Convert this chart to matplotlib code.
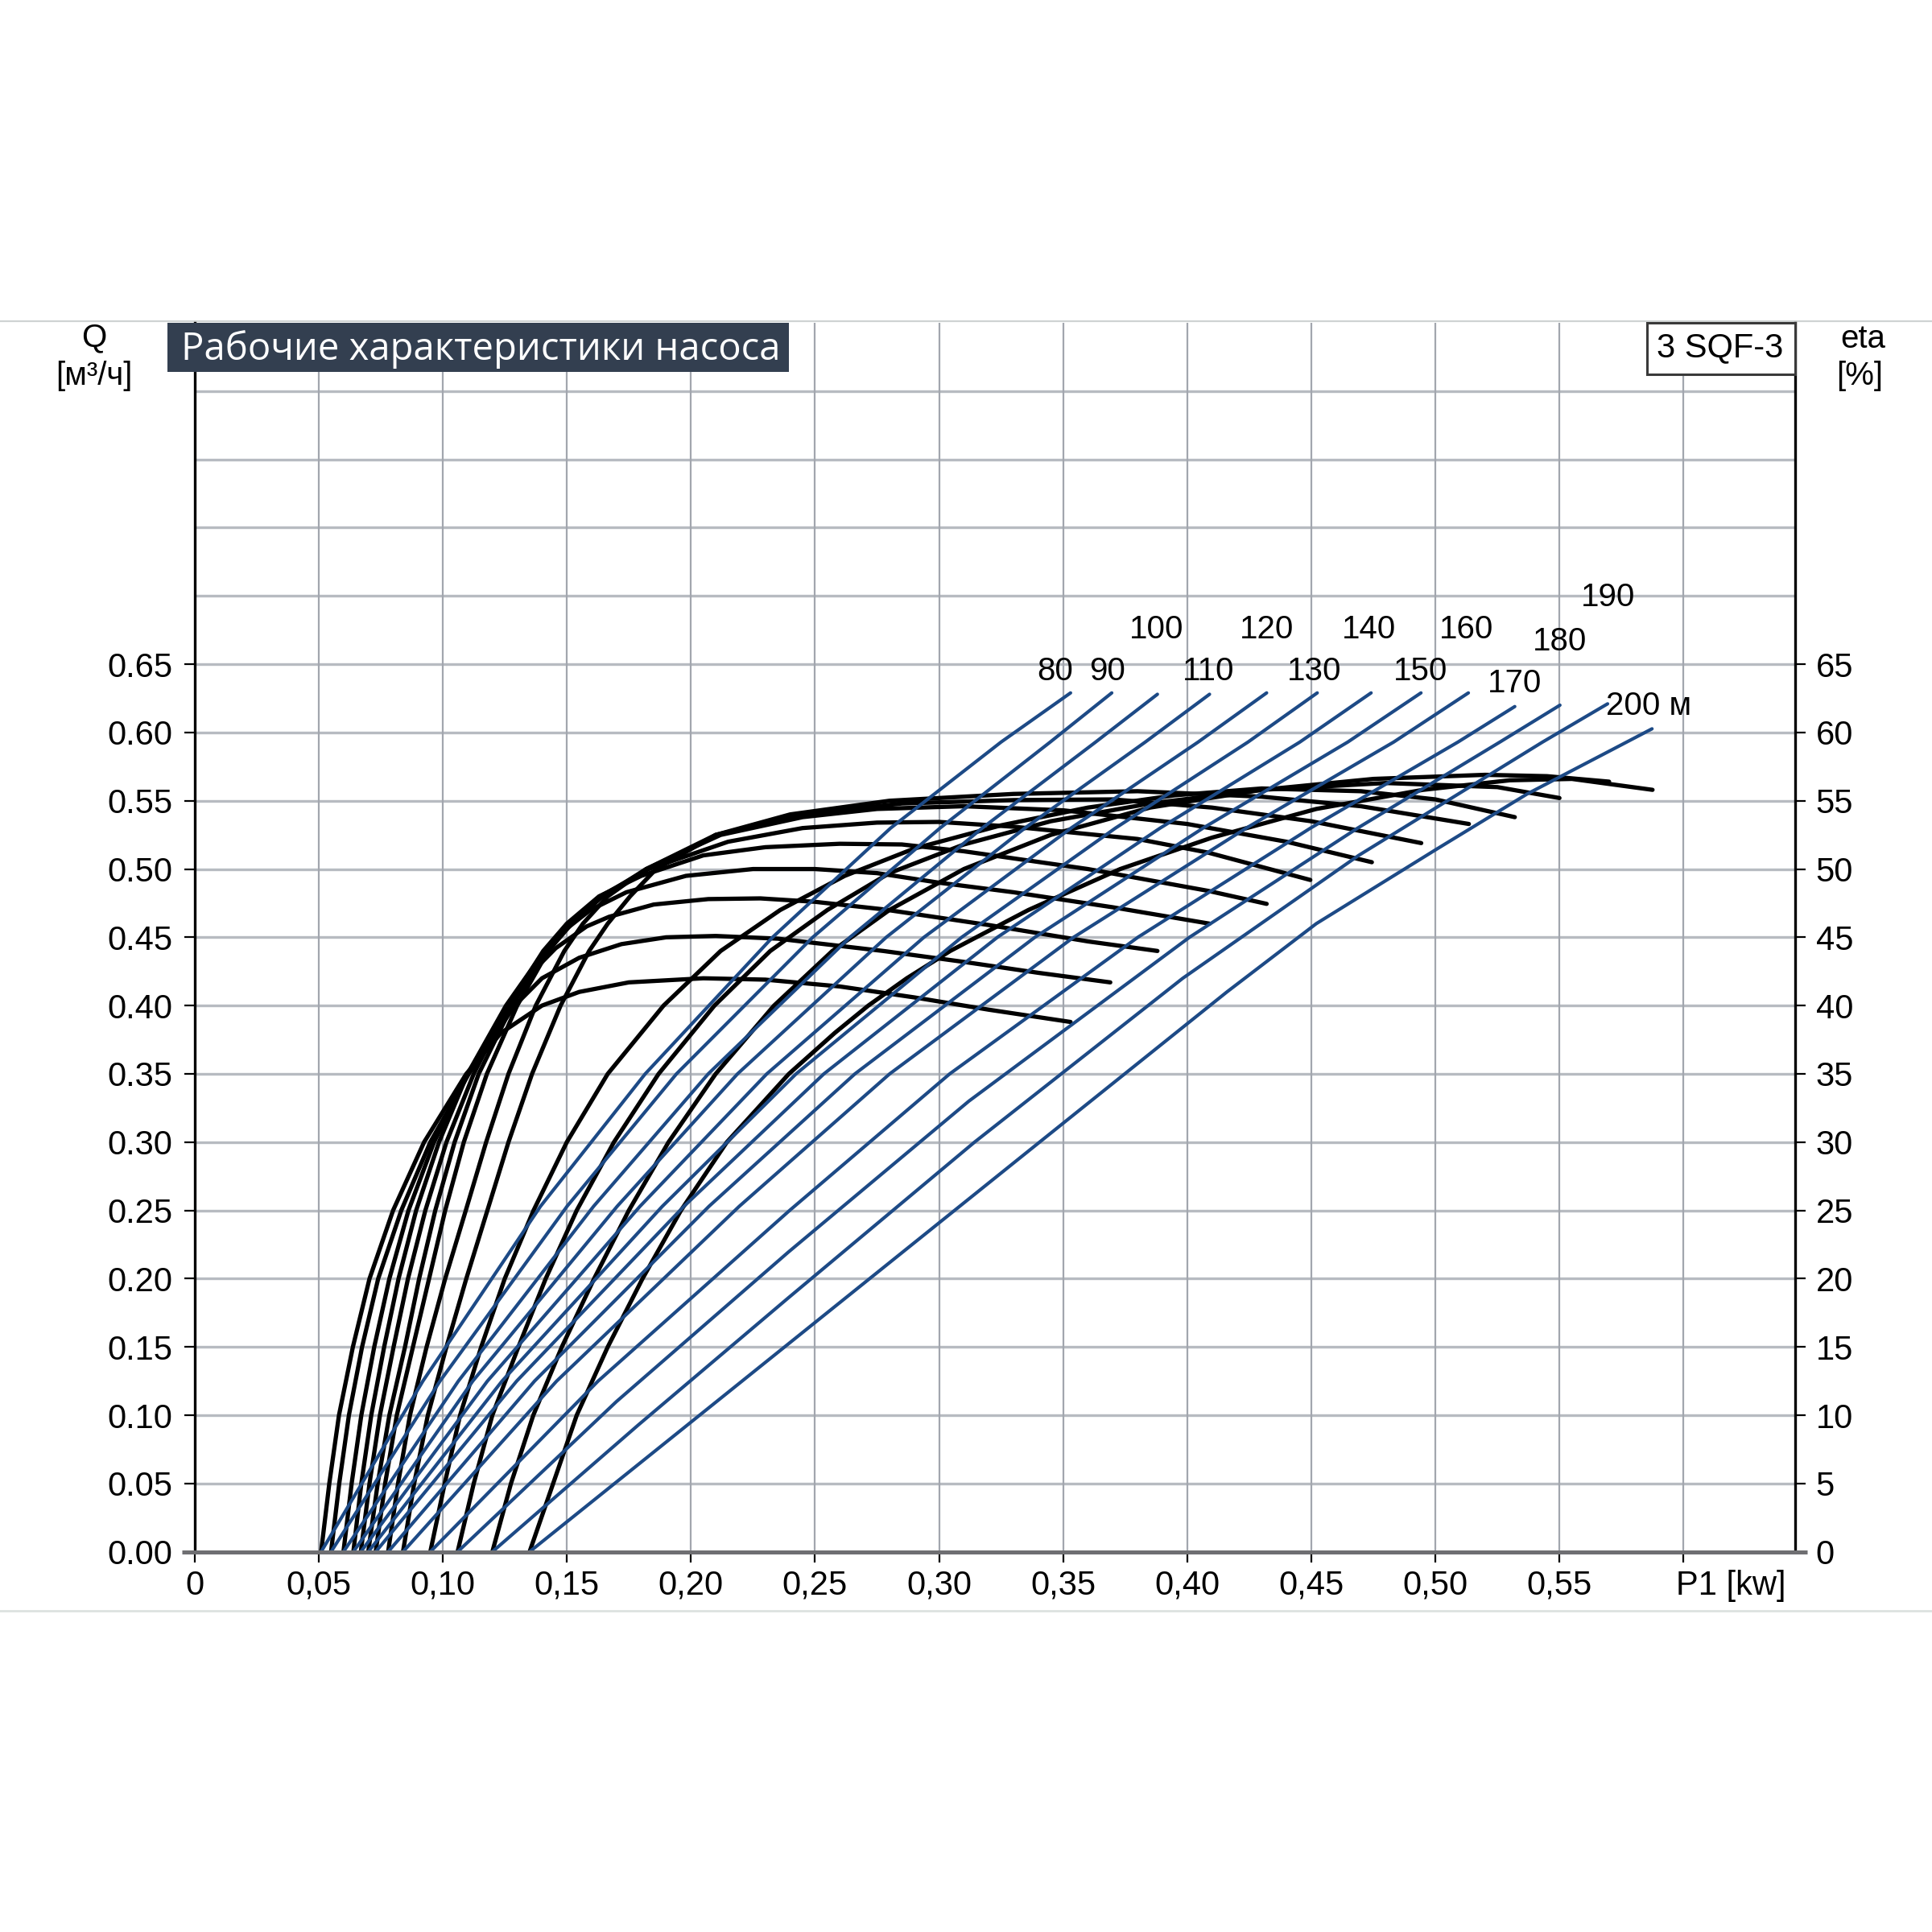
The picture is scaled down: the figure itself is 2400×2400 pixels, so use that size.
import numpy as np
import matplotlib.pyplot as plt
from matplotlib.patches import Rectangle
from matplotlib.lines import Line2D

plt.rcParams['font.family'] = ['Liberation Sans', 'DejaVu Sans']

# heads [m]
heads = [80, 90, 100, 110, 120, 130, 140, 150, 160, 170, 180, 190, 200]
head_labels = ['80', '90', '100', '110', '120', '130', '140', '150', '160', '170', '180', '190', '200 м']

# efficiency curves: P1 [kW] -> eta [%]
p_eta_80 = [0.051, 0.0543, 0.0582, 0.0638, 0.0705, 0.080, 0.0925, 0.1095, 0.1235, 0.140, 0.155, 0.175, 0.205, 0.23, 0.26, 0.29, 0.32, 0.353]
eta_80 = [0, 5, 10, 15, 20, 25, 30, 35, 38, 40, 41, 41.7, 42, 41.9, 41.4, 40.6, 39.7, 38.8]
p_eta_90 = [0.055, 0.0583, 0.0622, 0.0675, 0.074, 0.0833, 0.095, 0.1105, 0.129, 0.140, 0.155, 0.172, 0.19, 0.21, 0.235, 0.2775, 0.31, 0.34, 0.369]
eta_90 = [0, 5, 10, 15, 20, 25, 30, 35, 40, 42, 43.5, 44.5, 45.0, 45.1, 44.9, 44.0, 43.2, 42.4, 41.7]
p_eta_100 = [0.060, 0.0633, 0.0672, 0.0724, 0.0785, 0.0862, 0.0965, 0.110, 0.1275, 0.139, 0.1455, 0.158, 0.167, 0.185, 0.207, 0.228, 0.25, 0.2775, 0.32, 0.36, 0.388]
eta_100 = [0, 5, 10, 15, 20, 25, 30, 35, 40, 43, 44.2, 45.8, 46.5, 47.4, 47.8, 47.85, 47.6, 47.05, 45.9, 44.7, 44.0]
p_eta_110 = [0.064, 0.0672, 0.0712, 0.0764, 0.0822, 0.0893, 0.0985, 0.110, 0.1255, 0.141, 0.149, 0.1595, 0.174, 0.198, 0.225, 0.25, 0.275, 0.30, 0.33, 0.37, 0.409]
eta_110 = [0, 5, 10, 15, 20, 25, 30, 35, 40, 44, 45.5, 47, 48.3, 49.5, 50, 50, 49.7, 49.0, 48.3, 47.2, 46.0]
p_eta_120 = [0.067, 0.0705, 0.0747, 0.0802, 0.086, 0.093, 0.1015, 0.1125, 0.1265, 0.1405, 0.150, 0.163, 0.18, 0.205, 0.23, 0.26, 0.285, 0.31, 0.36, 0.4085, 0.432]
eta_120 = [0, 5, 10, 15, 20, 25, 30, 35, 40, 44, 46, 48, 49.5, 51, 51.6, 51.85, 51.8, 51.3, 50.0, 48.4, 47.45]
p_eta_130 = [0.070, 0.0738, 0.0785, 0.0848, 0.0905, 0.097, 0.1048, 0.1145, 0.128, 0.1415, 0.151, 0.1635, 0.183, 0.215, 0.245, 0.275, 0.30, 0.33, 0.38, 0.4085, 0.4496]
eta_130 = [0, 5, 10, 15, 20, 25, 30, 35, 40, 44, 46, 48, 50, 52, 53, 53.4, 53.45, 53.1, 52.2, 51.2, 49.2]
p_eta_140 = [0.073, 0.0768, 0.0815, 0.088, 0.0945, 0.101, 0.1085, 0.1178, 0.130, 0.1425, 0.152, 0.1645, 0.182, 0.212, 0.245, 0.275, 0.31, 0.35, 0.40, 0.44, 0.4744]
eta_140 = [0, 5, 10, 15, 20, 25, 30, 35, 40, 44, 46, 48, 50, 52.5, 53.8, 54.4, 54.6, 54.3, 53.3, 52.0, 50.5]
p_eta_150 = [0.078, 0.082, 0.0868, 0.0935, 0.101, 0.1093, 0.1175, 0.1265, 0.1375, 0.149, 0.1565, 0.1665, 0.182, 0.210, 0.245, 0.285, 0.33, 0.37, 0.41, 0.45, 0.4943]
eta_150 = [0, 5, 10, 15, 20, 25, 30, 35, 40, 44, 46, 48, 50, 52.5, 54, 54.8, 55.05, 55.1, 54.5, 53.5, 51.9]
p_eta_160 = [0.084, 0.0885, 0.094, 0.1015, 0.1095, 0.118, 0.1265, 0.136, 0.1475, 0.159, 0.1665, 0.1755, 0.186, 0.21, 0.24, 0.28, 0.33, 0.38, 0.43, 0.47, 0.5135]
eta_160 = [0, 5, 10, 15, 20, 25, 30, 35, 40, 44, 46, 48, 50, 52.5, 54, 55, 55.5, 55.7, 55.3, 54.6, 53.3]
p_eta_170 = [0.095, 0.1008, 0.107, 0.1155, 0.125, 0.1366, 0.150, 0.1665, 0.189, 0.212, 0.236, 0.262, 0.29, 0.325, 0.36, 0.395, 0.43, 0.47, 0.50, 0.532]
eta_170 = [0, 5, 10, 15, 20, 25, 30, 35, 40, 44, 47, 49.5, 51.5, 53.2, 54.5, 55.4, 55.9, 55.7, 55.1, 53.8]
p_eta_180 = [0.106, 0.1125, 0.120, 0.1305, 0.1415, 0.154, 0.169, 0.187, 0.2095, 0.232, 0.255, 0.28, 0.31, 0.345, 0.385, 0.43, 0.48, 0.525, 0.55]
eta_180 = [0, 5, 10, 15, 20, 25, 30, 35, 40, 44, 47, 49.7, 51.8, 53.5, 54.8, 55.8, 56.3, 56.0, 55.2]
p_eta_190 = [0.120, 0.1275, 0.1365, 0.148, 0.161, 0.175, 0.191, 0.210, 0.2335, 0.257, 0.28, 0.31, 0.345, 0.385, 0.43, 0.475, 0.52, 0.545, 0.570]
eta_190 = [0, 5, 10, 15, 20, 25, 30, 35, 40, 44, 47, 50, 52.5, 54.5, 55.8, 56.6, 56.9, 56.8, 56.4]
p_eta_200 = [0.135, 0.1445, 0.154, 0.1665, 0.1805, 0.196, 0.2145, 0.2395, 0.258, 0.2715, 0.287, 0.3045, 0.336, 0.373, 0.41, 0.452, 0.495, 0.53, 0.555, 0.5875]
eta_200 = [0, 5, 10, 15, 20, 25, 30, 35, 38, 40, 42, 44, 47, 50, 52.3, 54.4, 55.8, 56.5, 56.6, 55.8]

# flow curves: P1 [kW] -> Q [m3/h]
q_std = [0, 0.125, 0.253, 0.35, 0.45, 0.53, 0.593]
p_q_80 = [0.051, 0.092, 0.1394, 0.1816, 0.2329, 0.2805, 0.325, 0.353]
q_80 = q_std + [0.629]
p_q_90 = [0.055, 0.0989, 0.1501, 0.1942, 0.2491, 0.3004, 0.3448, 0.3696]
q_90 = q_std + [0.629]
p_q_100 = [0.060, 0.1063, 0.1608, 0.207, 0.2641, 0.3174, 0.3631, 0.388]
q_100 = q_std + [0.628]
p_q_110 = [0.064, 0.1121, 0.1703, 0.2188, 0.2787, 0.3346, 0.3831, 0.409]
q_110 = q_std + [0.628]
p_q_120 = [0.067, 0.118, 0.1795, 0.2306, 0.2939, 0.3532, 0.4044, 0.432]
q_120 = q_std + [0.629]
p_q_130 = [0.070, 0.1239, 0.1885, 0.2424, 0.3091, 0.3711, 0.4245, 0.4524]
q_130 = q_std + [0.629]
p_q_140 = [0.073, 0.1298, 0.1972, 0.2536, 0.3235, 0.3891, 0.4454, 0.4741]
q_140 = q_std + [0.629]
p_q_150 = [0.078, 0.137, 0.2073, 0.2661, 0.3386, 0.4064, 0.4647, 0.4942]
q_150 = q_std + [0.629]
p_q_160 = [0.084, 0.1459, 0.2195, 0.2801, 0.3542, 0.4238, 0.4832, 0.5133]
q_160 = q_std + [0.629]
p_q_170 = [0.095, 0.1626, 0.2398, 0.3043, 0.3801, 0.4497, 0.5091, 0.532]
q_170 = [0, 0.125, 0.25, 0.35, 0.45, 0.53, 0.593, 0.619]
p_q_180 = [0.106, 0.170, 0.2393, 0.312, 0.4009, 0.4687, 0.526, 0.5502]
q_180 = [0, 0.11, 0.2195, 0.33, 0.45, 0.53, 0.593, 0.620]
p_q_190 = [0.120, 0.1789, 0.2393, 0.3143, 0.3982, 0.4691, 0.5432, 0.5694]
q_190 = [0, 0.093, 0.186, 0.30, 0.42, 0.51, 0.593, 0.621]
p_q_200 = [0.135, 0.2035, 0.272, 0.3405, 0.416, 0.452, 0.50, 0.537, 0.5712, 0.5873]
q_200 = [0, 0.1, 0.2, 0.3, 0.41, 0.46, 0.514, 0.555, 0.5874, 0.6027]

# label anchor points (P1, Q)
label_p = [0.3469, 0.3678, 0.3877, 0.4085, 0.4319, 0.4513, 0.4732, 0.494, 0.5124, 0.5318, 0.5502, 0.5696, 0.5686]
label_q = [0.6449, 0.6449, 0.6756, 0.6449, 0.6756, 0.6449, 0.6756, 0.6449, 0.6756, 0.6359, 0.6666, 0.6991, 0.6196]

eta_curves = [(p_eta_80, eta_80), (p_eta_90, eta_90), (p_eta_100, eta_100), (p_eta_110, eta_110),
              (p_eta_120, eta_120), (p_eta_130, eta_130), (p_eta_140, eta_140), (p_eta_150, eta_150),
              (p_eta_160, eta_160), (p_eta_170, eta_170), (p_eta_180, eta_180), (p_eta_190, eta_190),
              (p_eta_200, eta_200)]
q_curves = [(p_q_80, q_80), (p_q_90, q_90), (p_q_100, q_100), (p_q_110, q_110), (p_q_120, q_120),
            (p_q_130, q_130), (p_q_140, q_140), (p_q_150, q_150), (p_q_160, q_160), (p_q_170, q_170),
            (p_q_180, q_180), (p_q_190, q_190), (p_q_200, q_200)]

blue = '#1d4a86'
fs = 30

fig = plt.figure(figsize=(24, 24), dpi=100)
ax = fig.add_axes([0.1007, 0.1968, 0.8285, 0.6361])
ax2 = ax.twinx()
ax.set_zorder(3)
ax2.set_zorder(2)
ax.patch.set_visible(False)

ax.set_xlim(0, 0.645)
ax.set_ylim(0, 0.9)
ax2.set_ylim(0, 90)

# grid (on the lower axes so curves sit on top)
for v in np.arange(5, 90, 5):
    ax2.axhline(v, color='#b7bbc1', lw=2.4, zorder=0)
for p in np.arange(0.05, 0.61, 0.05):
    ax2.axvline(p, color='#a2a6ae', lw=1.6, zorder=0)

# efficiency curves (black)
for p, e in eta_curves:
    ax2.plot(p, e, color='black', lw=3.8, solid_capstyle='round', solid_joinstyle='round', zorder=2)

# flow curves (blue)
for p, q in q_curves:
    ax.plot(p, q, color=blue, lw=3.0, solid_capstyle='round', solid_joinstyle='round', zorder=3)

for lab, lp, lq in zip(head_labels, label_p, label_q):
    if lab.endswith('м'):
        ax.text(lp, lq, lab, ha='left', va='center', fontsize=29, zorder=5)
    else:
        ax.text(lp, lq, lab, ha='center', va='center', fontsize=29, zorder=5)

# spines
for s in ['top', 'right', 'bottom']:
    ax.spines[s].set_visible(False)
for s in ['top', 'left', 'bottom']:
    ax2.spines[s].set_visible(False)
ax.spines['left'].set_linewidth(2.4)
ax.spines['left'].set_color('black')
ax2.spines['right'].set_linewidth(2.4)
ax2.spines['right'].set_color('black')
ax.plot([-0.005, 0.65], [0, 0], color='#6f6f72', lw=3.6, clip_on=False, zorder=6,
        solid_capstyle='butt')

# ticks
xt = np.arange(0, 0.601, 0.05)
ax.set_xticks(xt)
ax.set_xticklabels(['0'] + [('%.2f' % v).replace('.', ',') for v in xt[1:-1]] + [''])
ax.tick_params(axis='x', length=9, width=1.6, pad=7, labelsize=fs, color='black')
yt = np.arange(0, 0.651, 0.05)
ax.set_yticks(yt)
ax.set_yticklabels(['%.2f' % v for v in yt])
ax.tick_params(axis='y', length=9.5, width=1.6, pad=10, labelsize=fs, color='black')
ax2.set_yticks(range(0, 66, 5))
ax2.set_yticklabels([str(v) for v in range(0, 66, 5)])
ax2.tick_params(axis='y', length=9.5, width=1.6, pad=9, labelsize=fs, color='black')

ax.annotate('P1 [kw]', xy=(0.619, 0), xycoords=('data', 'axes fraction'),
            xytext=(0, -16), textcoords='offset points', ha='center', va='top', fontsize=fs)

# frame lines across the figure
fig.add_artist(Line2D([0, 1], [0.8336, 0.8336], transform=fig.transFigure, color='#cfd3d3', lw=1.6, zorder=1))
fig.add_artist(Line2D([0, 1], [0.1664, 0.1664], transform=fig.transFigure, color='#dde2e0', lw=2.0, zorder=1))

# title box
fig.add_artist(Rectangle((0.0867, 0.8074), 0.3215, 0.0255, transform=fig.transFigure,
                         facecolor='#333f50', edgecolor='none', zorder=10))
fig.text(0.0938, 0.8139, 'Рабочие характеристики насоса', color='white', fontsize=34,
         family=['Open Sans', 'DejaVu Sans'], ha='left', va='baseline', zorder=11)

# model box
fig.add_artist(Rectangle((0.8524, 0.8063), 0.0768, 0.0268, transform=fig.transFigure,
                         facecolor='white', edgecolor='#3a3a3a', lw=2.2, zorder=10))
fig.text(0.8903, 0.8153, '3 SQF-3', fontsize=30, ha='center', va='baseline', zorder=11)

# axis captions
fig.text(0.0488, 0.8208, 'Q', fontsize=29, ha='center', va='baseline')
fig.text(0.0488, 0.8008, '[м³/ч]', fontsize=29, ha='center', va='baseline')
fig.text(0.9642, 0.8201, 'eta', fontsize=29, ha='center', va='baseline')
fig.text(0.9625, 0.8008, '[%]', fontsize=29, ha='center', va='baseline')

fig.savefig('out.png', dpi=100, facecolor='white')
